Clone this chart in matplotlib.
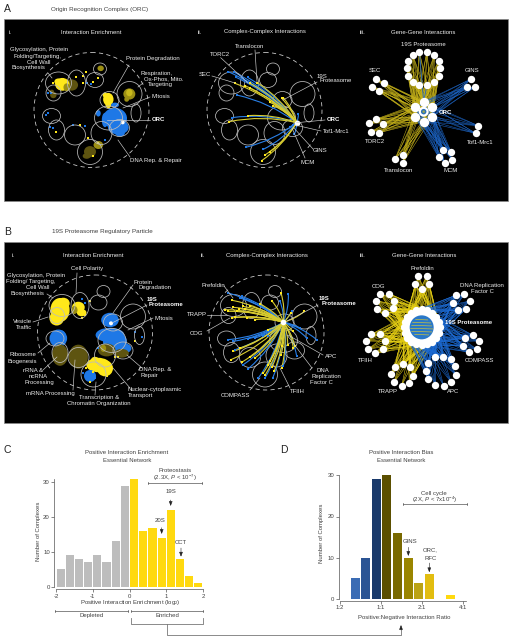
import matplotlib
matplotlib.use('Agg')
import matplotlib.pyplot as plt
from matplotlib.patches import Ellipse, Rectangle, PathPatch
from matplotlib.path import Path
import numpy as np

plt.rcParams['font.family'] = ['Liberation Sans', 'DejaVu Sans']
plt.rcParams['mathtext.fontset'] = 'custom'
plt.rcParams['mathtext.rm'] = 'Liberation Sans'
plt.rcParams['mathtext.it'] = 'Liberation Sans:italic'

# ---------- histogram data ----------
c_bins = [-1.875, -1.625, -1.375, -1.125, -0.875, -0.625, -0.375, -0.125,
          0.125, 0.375, 0.625, 0.875, 1.125, 1.375, 1.625, 1.875]
c_counts = [5, 9, 8, 7, 9, 7, 13, 29, 31, 16, 17, 14, 22, 8, 3, 1]
c_colors = ['#bdbdbd'] * 8 + ['#ffd90f'] * 8
d_bins = [-0.626, -0.372, -0.112, 0.149, 0.401, 0.663, 0.924, 1.183, 1.443, 1.695]
d_counts = [5, 10, 29, 30, 16, 10, 4, 6, 0, 1]
d_colors = ['#3b6cb4', '#2b5494', '#1a3a6b', '#5b4f00', '#796900', '#9a8500',
            '#bba313', '#e2bd10', '#f0c800', '#ffd90f']
d_ticklabels = ['1:2', '1:1', '2:1', '4:1']

# ---------- network map outlines, relative to map centre (x, y, rx, ry) ----------
regions = [(-33, -27, 13, 11), (-38, -17, 7.5, 8), (-15, -27, 9, 13), (8.5, -41, 6.5, 6),
           (3.5, -30, 8.5, 7.5), (38, -16, 12.5, 12.5), (18, -10, 9.5, 8.5), (44.5, 3, 5, 9),
           (17, 8, 14, 12), (28, 18, 10, 8.5), (-40, 6, 9, 7.5), (-35, 20, 8, 10),
           (-16.5, 25, 10.5, 10), (10, 23, 10.5, 11.5), (-1.5, 42, 12.5, 12.5)]
map_centres = {'Ai': (91.5, 110), 'Aii': (264.5, 110), 'Bi': (95, 332.5), 'Bii': (266.5, 332.5)}
MAP_R = 57.5

YEL, BLU, OLV, DOL = '#ffe81a', '#1e78e6', '#9c8f14', '#5e5410'

# ---------- enrichment maps: blobs (x, y, rx, ry, colour) in crop coordinates ----------
ai_origin = (30, 50)
ai_blobs = [(125, 105, 16, 14, DOL), (70, 135, 8, 8, DOL), (65, 125, 6, 5, DOL),
            (97, 103, 18, 16, YEL), (85, 95, 10, 8, YEL), (110, 112, 8, 10, OLV),
            (235, 148, 13, 16, YEL), (235, 165, 7, 8, YEL), (225, 135, 6, 6, YEL),
            (298, 132, 15, 14, OLV), (298, 128, 8, 9, '#c8b81c'), (290, 148, 6, 6, OLV),
            (180, 305, 15, 14, DOL), (170, 318, 10, 7, DOL), (205, 285, 12, 10, OLV),
            (212, 55, 8, 7, OLV), (255, 205, 30, 26, BLU), (265, 232, 26, 18, BLU),
            (225, 210, 8, 18, BLU), (270, 250, 12, 8, BLU), (205, 190, 6, 8, BLU),
            (255, 165, 10, 6, BLU), (278, 217, 6, 6, '#ffffff')]
ai_yellow = [(68, 100), (138, 82), (168, 65), (158, 78), (188, 97), (205, 85), (175, 265),
             (190, 318), (78, 247), (150, 225), (203, 280), (160, 100)]
ai_blue = [(55, 130), (62, 130), (60, 232), (170, 100), (183, 103), (225, 270), (48, 195),
           (68, 235), (200, 185), (55, 188), (130, 225), (165, 228)]

bi_origin = (35, 270)
bi_blobs = [(75, 120, 24, 30, YEL), (85, 100, 16, 14, YEL), (65, 145, 18, 18, YEL),
            (130, 112, 16, 14, YEL), (140, 128, 12, 9, YEL), (118, 120, 8, 10, OLV),
            (225, 150, 22, 18, BLU), (225, 195, 36, 18, BLU), (240, 215, 30, 24, BLU),
            (270, 235, 16, 12, BLU), (70, 205, 22, 22, BLU), (75, 190, 12, 8, BLU),
            (75, 255, 20, 27, DOL), (130, 260, 24, 30, DOL), (215, 240, 22, 16, DOL),
            (260, 250, 18, 11, DOL), (190, 285, 30, 18, YEL), (210, 295, 20, 20, YEL),
            (180, 270, 10, 8, YEL), (165, 318, 15, 15, BLU), (205, 235, 7, 9, OLV),
            (228, 160, 6, 6, '#ffffff')]
bi_yellow = [(165, 92), (150, 135), (140, 145), (300, 212), (152, 295), (215, 318), (175, 305),
             (165, 335), (250, 260), (240, 262)]
bi_blue = [(140, 88), (150, 100), (180, 325), (300, 185), (190, 235), (145, 308), (320, 200)]

# ---------- complex-complex maps: end points of arcs in crop coordinates ----------
aii_origin = (200, 45)
aii_hub = (290, 233)
aii_yellow = [(105, 115), (135, 122), (150, 115), (172, 113), (150, 130), (245, 160), (210, 172),
              (220, 182), (143, 212), (87, 230), (195, 330), (210, 320), (185, 347), (250, 158)]
aii_blue = [(85, 80), (103, 82), (143, 97), (108, 97), (110, 150), (95, 218), (190, 313),
            (137, 307), (295, 208), (283, 268), (270, 245), (125, 100), (278, 240)]

bii_origin = (200, 268)
bii_hub = (250, 163)
bii_yellow = [(97, 97), (75, 125), (100, 118), (118, 122), (135, 122), (150, 115), (95, 150),
              (105, 148), (140, 150), (165, 155), (180, 108), (215, 98), (243, 75), (313, 130),
              (272, 135), (205, 185), (120, 240), (100, 250), (93, 275), (125, 283), (150, 268),
              (165, 270), (190, 315), (195, 322), (203, 290), (215, 298), (222, 310), (245, 300),
              (210, 280), (245, 235), (263, 230), (280, 240), (285, 235), (278, 190), (243, 260),
              (85, 130), (110, 130), (128, 115)]
bii_blue = [(85, 75), (120, 90), (125, 85), (265, 78), (240, 100), (275, 130), (100, 220),
            (145, 212), (165, 210), (190, 205), (105, 245), (130, 290), (145, 302), (195, 330),
            (218, 330), (175, 330), (250, 295), (300, 180), (320, 210), (350, 215), (290, 265),
            (85, 215), (205, 205)]

# ---------- gene-gene networks (crop coordinates) ----------
aiii_hubnodes = [(503, 305), (477, 322), (529, 322), (477, 350), (529, 350), (503, 365)]
aiii_clusters = {
    '19S': ([(490, 155), (513, 155), (535, 165), (548, 183), (552, 205), (548, 228), (535, 245),
             (513, 255), (490, 255), (470, 245), (457, 228), (452, 205), (457, 183), (470, 165)], '#c8b41a'),
    'SEC': ([(361, 237), (383, 250), (348, 260), (370, 272)], '#c8b41a'),
    'TORC2': ([(361, 357), (338, 370), (380, 373), (344, 396), (370, 398)], '#c8b41a'),
    'Translocon': ([(440, 465), (417, 478), (440, 490)], '#c8b41a'),
    'GINS': ([(645, 237), (632, 260), (658, 260)], '#1c64c4'),
    'Tof1': ([(667, 377), (659, 400)], '#1c64c4'),
    'MCM': ([(561, 450), (585, 455), (548, 472), (589, 480), (566, 490)], '#1c64c4'),
}
biii_hub_centre = (497, 367)
biii_hub_angles = [0, 18, 36, 54, 72, 90, 108, 126, 144, 162, 180, 198, 216, 234, 252, 270, 288, 306, 324, 342]
biii_clusters = {
    'Prefoldin': ([(487, 213), (512, 213), (478, 238), (520, 238), (499, 253)], '#e6cf14'),
    'COG': ([(373, 266), (399, 266), (359, 287), (415, 287), (364, 312), (388, 323), (410, 310)], '#e6cf14'),
    'TFIIH': ([(346, 388), (372, 388), (330, 408), (388, 408), (335, 433), (382, 433), (358, 445)], '#e6cf14'),
    'TRAPP': ([(441, 476), (417, 485), (463, 487), (405, 508), (471, 512), (414, 532), (460, 534), (437, 542)], '#e6cf14'),
    'DNA': ([(599, 271), (625, 267), (590, 295), (641, 288), (606, 316), (631, 311)], '#1c6ad2'),
    'COMPASS': ([(651, 391), (626, 398), (669, 408), (620, 422), (663, 433), (638, 441)], '#1c6ad2'),
    'APC': ([(536, 457), (561, 456), (585, 463), (517, 474), (598, 484), (510, 498), (599, 509),
             (517, 523), (586, 532), (538, 540), (563, 543)], '#1c6ad2'),
}

# ---------- texts (x, y, text) ----------
white_labels = [
    (38.7, 50, 'Glycosylation, Protein'), (37, 56.5, 'Folding/Targeting,'), (39, 62, 'Cell Wall'), (28, 68, 'Biosynthesis'),
    (153, 58.5, 'Protein Degradation'), (157, 73, 'Respiration,'), (164, 79, 'Ox-Phos, Mito.'), (160, 84.5, 'Targeting'),
    (161, 96, 'Mitosis'), (155.7, 160.5, 'DNA Rep. & Repair'),
    (249.5, 47, 'Translocon'), (220, 55, 'TORC2'), (205, 75, 'SEC'), (321.7, 76, '19S'), (336, 81, 'Proteasome'),
    (336.7, 131.5, 'Tof1-Mrc1'), (320, 151, 'GINS'), (308, 163, 'MCM'),
    (423.7, 44.5, '19S Proteasome'), (375, 70.5, 'SEC'), (471.7, 70.5, 'GINS'), (480, 142, 'Tof1-Mrc1'),
    (375, 141.5, 'TORC2'), (399, 171, 'Translocon'), (451, 171, 'MCM'),
    (91.5, 32, 'Interaction Enrichment'), (264.5, 32, 'Complex-Complex Interactions'), (422.7, 32, 'Gene-Gene Interactions'),
    (10, 32, 'i.'), (200, 32, 'ii.'), (362.7, 32, 'iii.'),
    (93.7, 255.5, 'Interaction Enrichment'), (266.5, 255.5, 'Complex-Complex Interactions'), (424.3, 255.5, 'Gene-Gene Interactions'),
    (13, 255.5, 'i.'), (203, 255.5, 'ii.'), (362, 255.5, 'iii.'),
    (86.7, 268.3, 'Cell Polarity'), (36, 275.7, 'Glycosylation, Protein'), (30.7, 282, 'Folding/ Targeting,'),
    (37.3, 287.7, 'Cell Wall'), (27.3, 293.7, 'Biosynthesis'), (22.7, 321.7, 'Vesicle'), (24, 327.5, 'Traffic'),
    (22.7, 355, 'Ribosome'), (22.7, 361, 'Biogenesis'), (33.3, 370.7, 'rRNA &'), (38, 376.5, 'ncRNA'), (39, 382.5, 'Processing'),
    (50.7, 394, 'mRNA Processing'), (99.3, 398, 'Transcription &'), (99.3, 404, 'Chromatin Organization'),
    (155, 389.3, 'Nuclear-cytoplasmic'), (141, 395, 'Transport'), (155, 369.7, 'DNA Rep. &'), (149, 375.7, 'Repair'),
    (164, 318, 'Mitosis'), (143, 282, 'Protein'), (155, 288, 'Degradation'),
    (213.3, 285.7, 'Prefoldin'), (196.7, 314.3, 'TRAPP'), (197, 333.7, 'COG'), (235.7, 395.7, 'COMPASS'), (297, 391.7, 'TFIIH'),
    (322.7, 370.5, 'DNA'), (326, 376.5, 'Replication'), (321.3, 382.5, 'Factor C'), (331, 356, 'APC'),
    (422.3, 268.3, 'Prefoldin'), (379, 286, 'COG'), (482, 285.7, 'DNA Replication'), (482, 291.7, 'Factor C'),
    (479, 360, 'COMPASS'), (365.3, 360, 'TFIIH'), (388, 391.5, 'TRAPP'), (452.7, 391.5, 'APC'),
]
bold_labels = [(158, 119.5, 'ORC'), (333.7, 119.5, 'ORC'), (445, 112.5, 'ORC'),
               (152, 299.5, '19S'), (166, 305, 'Proteasome'),
               (324, 298, '19S'), (338.7, 303.7, 'Proteasome'), (468.3, 322, '19S Proteasome')]
leaders = [
    ((48, 73), (52, 78)), ((129, 65), (113, 93)), ((143, 83), (138, 87)), ((150, 97), (123, 108)),
    ((150, 119.5), (107, 119.5)), ((130, 157), (118, 140)),
    ((220.7, 57.7), (248, 83)), ((255, 50), (257, 82)), ((212, 76), (235, 83)), ((317, 82), (283, 100)),
    ((325, 120), (296.7, 122.7)), ((321, 131), (295, 125)), ((313, 149), (293, 127)), ((305, 158), (292, 128)),
    ((77, 273), (76, 293)), ((47, 294), (53, 298)), ((33, 322), (48, 317)), ((38, 353), (50, 343)),
    ((43, 370), (57, 357)), ((73, 390), (75, 360)), ((95, 395), (96, 382)), ((130, 388), (113, 368)),
    ((142, 368), (127, 355)), ((153, 318), (128, 330)), ((147, 305), (112, 323)), ((133, 285), (113, 313)),
    ((224, 286), (233, 298)), ((207, 315), (227, 315)), ((207, 331), (230, 318)), ((250, 390), (260, 378)),
    ((290, 388), (280, 368)), ((312, 368), (287, 335)), ((323, 355), (288, 335)), ((318, 305), (287, 321)),
]

# ---------- figure ----------
fig = plt.figure(figsize=(5.12, 6.4), dpi=100, facecolor='white')
ov = fig.add_axes([0, 0, 1, 1], zorder=1)
ov.set_xlim(0, 512)
ov.set_ylim(640, 0)
ov.axis('off')

for top, bot in [(18.7, 201), (241.7, 423.3)]:
    ov.add_patch(Rectangle((4, top), 503.5, bot - top, fc='black', ec='#888888', lw=0.5, zorder=0))


def conv(p, origin):
    return origin[0] + p[0] / 3, origin[1] + p[1] / 3


def draw_map(key):
    cx, cy = map_centres[key]
    ov.add_patch(Ellipse((cx, cy), 2 * MAP_R, 2 * MAP_R, fc='none', ec='#c8c8c8', lw=0.6,
                         ls=(0, (5, 4)), zorder=6))
    for x, y, rx, ry in regions:
        ov.add_patch(Ellipse((cx + x, cy + y), 2 * rx, 2 * ry, fc='none', ec='#bcbcbc', lw=0.55, zorder=5))


def draw_enrichment(key, origin, blobs, yel, blu):
    for x, y, rx, ry, col in blobs:
        xc, yc = conv((x, y), origin)
        scale = 1.0 if col == '#ffffff' else 1.2
        ov.add_patch(Ellipse((xc, yc), 2 * scale * rx / 3, 2 * scale * ry / 3, fc=col, ec='none', zorder=3))
    for pts, col in [(yel, YEL), (blu, BLU)]:
        xy = np.array([conv(p, origin) for p in pts])
        ov.scatter(xy[:, 0], xy[:, 1], s=3, c=col, marker='s', lw=0, zorder=4)
    draw_map(key)


def arc(p0, p1, col, lw=0.8):
    p0, p1 = np.array(p0), np.array(p1)
    d = p1 - p0
    normal = np.array([d[1], -d[0]])
    if d[1] < -0.2 * np.hypot(*d):
        normal = -normal
    ctrl = (p0 + p1) / 2 + normal * 0.11
    path = Path([p0, ctrl, p1], [Path.MOVETO, Path.CURVE3, Path.CURVE3])
    ov.add_patch(PathPatch(path, fc='none', ec=col, lw=lw, zorder=7))


def draw_complex(key, origin, hub, yel, blu, hubsize):
    draw_map(key)
    h = conv(hub, origin)
    for pts, col in [(blu, '#2a80e8'), (yel, '#d8cc30')]:
        for q in [conv(p, origin) for p in pts]:
            arc(q, h, col)
    for pts, col in [(blu, BLU), (yel, YEL)]:
        xy = np.array([conv(p, origin) for p in pts])
        ov.scatter(xy[:, 0], xy[:, 1], s=4.5, c=col, marker='s', lw=0, zorder=8)
    ov.scatter([h[0]], [h[1]], s=hubsize, c='white', lw=0, zorder=9)


draw_enrichment('Ai', ai_origin, ai_blobs, ai_yellow, ai_blue)
draw_enrichment('Bi', bi_origin, bi_blobs, bi_yellow, bi_blue)
draw_complex('Aii', aii_origin, aii_hub, aii_yellow, aii_blue, 16)
draw_complex('Bii', bii_origin, bii_hub, bii_yellow, bii_blue, 16)

# gene-gene A
o_a = (256, 0)
hub_a = [conv(p, o_a) for p in aiii_hubnodes]
for name, (nodes, col) in aiii_clusters.items():
    for n in nodes:
        q = conv(n, o_a)
        for h in hub_a:
            ov.plot([q[0], h[0]], [q[1], h[1]], color=col, lw=0.35, zorder=2)
    xy = np.array([conv(n, o_a) for n in nodes])
    ov.scatter(xy[:, 0], xy[:, 1], s=28, c='white', lw=0, zorder=4)
for n in [(490, 155), (513, 255)]:
    q = conv(n, o_a)
    ov.plot([q[0], hub_a[0][0]], [q[1], hub_a[0][1]], color='#1c64c4', lw=0.6, zorder=3)
xy = np.array(hub_a)
ov.scatter(xy[:, 0], xy[:, 1], s=46, c='white', lw=0, zorder=4)
hc = conv((503, 335), o_a)
ov.add_patch(Ellipse(hc, 10, 10, fc='white', ec='none', zorder=4))
ov.add_patch(Ellipse(hc, 5.5, 5.5, fc='#2a70b8', ec='none', zorder=5))
ov.add_patch(Ellipse(hc, 2.5, 2.5, fc='#9aa850', ec='none', zorder=6))

# gene-gene B
o_b = (256, 205)
cx, cy = conv(biii_hub_centre, o_b)
ring = [(cx + 18 * np.cos(np.deg2rad(a)), cy + 18 * np.sin(np.deg2rad(a))) for a in biii_hub_angles]
for name, (nodes, col) in biii_clusters.items():
    for n in nodes:
        q = conv(n, o_b)
        for h in ring:
            if np.hypot(q[0] - h[0], q[1] - h[1]) < 48:
                ov.plot([q[0], h[0]], [q[1], h[1]], color=col, lw=0.35, zorder=2)
    xy = np.array([conv(n, o_b) for n in nodes])
    ov.scatter(xy[:, 0], xy[:, 1], s=28, c='white', lw=0, zorder=4)
xy = np.array(ring)
ov.scatter(xy[:, 0], xy[:, 1], s=28, c='white', lw=0, zorder=4)
ov.add_patch(Ellipse((cx, cy), 36, 36, fc='white', ec='none', zorder=4))
ov.add_patch(Ellipse((cx, cy), 24, 24, fc='#2a78c8', ec='none', zorder=5))
for dy, half in [(-8, 6), (-5, 9), (-2, 10), (1, 11), (4, 10), (7, 7)]:
    ov.plot([cx - half, cx + half], [cy + dy, cy + dy + 0.6], color='#c8c040', lw=0.5, zorder=6)

# leaders and labels
for p, q in leaders:
    ov.plot([p[0], q[0]], [p[1], q[1]], color='#d0d0d0', lw=0.45, zorder=10)
FS = 4.3
for x, y, t in white_labels:
    ov.text(x, y, t, color='#eeeeee', fontsize=FS, ha='center', va='center', zorder=12)
for x, y, t in bold_labels:
    ov.text(x, y, t, color='white', fontsize=FS, fontweight='bold', ha='center', va='center', zorder=12)

# headings
GT = '#404040'
ov.text(7.5, 8.5, 'A', fontsize=7.5, color='#222222', ha='center', va='center')
ov.text(51, 9.3, 'Origin Recognition Complex (ORC)', fontsize=4.5, color=GT, ha='left', va='center')
ov.text(7.5, 231.7, 'B', fontsize=7.5, color='#222222', ha='center', va='center')
ov.text(52, 231.5, '19S Proteasome Regulatory Particle', fontsize=4.5, color=GT, ha='left', va='center')
ov.text(7.5, 450, 'C', fontsize=7.5, color='#222222', ha='center', va='center')
ov.text(284, 450, 'D', fontsize=7.5, color='#222222', ha='center', va='center')


def hist_axes(l, r, y0px, ytop, xlim, ymax):
    ax = fig.add_axes([l / 512, (640 - y0px) / 640, (r - l) / 512, (y0px - ytop) / 640], zorder=2)
    ax.patch.set_alpha(0)
    ax.set_xlim(*xlim)
    ax.set_ylim(0, ymax)
    for s in ['top', 'right']:
        ax.spines[s].set_visible(False)
    for s in ['left', 'bottom']:
        ax.spines[s].set_color('#555555')
        ax.spines[s].set_linewidth(0.5)
    ax.tick_params(length=2, width=0.5, color='#555555', labelsize=FS, labelcolor=GT, pad=1.2)
    return ax


# panel C
axc = hist_axes(56, 203, 586.7, 478, (-2, 2), (586.7 - 478) / 3.48)
axc.bar(c_bins, c_counts, width=0.22, color=c_colors, lw=0)
axc.set_xticks([-2, -1, 0, 1, 2], ['-2', '-1', '0', '1', '2'])
axc.set_yticks([0, 10, 20, 30])
axc.spines['left'].set_position(('outward', 1.2))
axc.spines['bottom'].set_position(('outward', 1.7))
axc.spines['left'].set_bounds(0, (586.7 - 479) / 3.48)

# panel D
axd = hist_axes(340, 466, 599, 473, (-1, (466 - 380.9) / 40.9), (599 - 473) / 4.125)
axd.bar(d_bins, d_counts, width=0.22, color=d_colors, lw=0)
axd.set_xticks([-1, 0, 1, 2], d_ticklabels)
axd.set_yticks([0, 10, 20, 30])
axd.spines['left'].set_position(('outward', 1.0))
axd.spines['bottom'].set_position(('outward', 1.4))
axd.spines['left'].set_bounds(0, 30)

hist_texts = [
    (126.7, 452.3, 'Positive Interaction Enrichment'), (126.7, 460, 'Essential Network'),
    (174.7, 471, 'Proteostasis'), (174.7, 478.3, '(2.3X, $\\mathit{P}$ < 10$^{-7}$)'),
    (170.7, 491.7, '19S'), (160.3, 520, '20S'), (181, 542, 'CCT'),
    (130, 602.5, 'Positive Interaction Enrichment (log$_{2}$)'),
    (91.7, 615.5, 'Depleted'), (167.3, 615.5, 'Enriched'),
    (400.7, 452.3, 'Positive Interaction Bias'), (400.7, 460, 'Essential Network'),
    (434.3, 493.5, 'Cell cycle'), (434.3, 500.3, '(2X, $\\mathit{P}$ < 7x10$^{-4}$)'),
    (410.3, 541.7, 'GINS'), (430.3, 550, 'ORC,'), (430.3, 558, 'RFC'),
    (404.3, 617.3, 'Positive:Negative Interaction Ratio'),
]
for x, y, t in hist_texts:
    ov.text(x, y, t, fontsize=FS, color=GT, ha='center', va='center')
ov.text(38.5, 531.7, 'Number of Complexes', fontsize=FS, color=GT, rotation=90, ha='center', va='center')
ov.text(322, 533, 'Number of Complexes', fontsize=FS, color=GT, rotation=90, ha='center', va='center')

# arrows
ARROW = dict(arrowstyle='-|>,head_width=0.35,head_length=0.9', mutation_scale=3, lw=0.4,
             color='#222222', shrinkA=0, shrinkB=0)
for x, y0, y1 in [(170.7, 500, 506), (161.7, 527.7, 534), (181, 548, 556.7), (408.3, 547.3, 556), (429.3, 563, 572.3)]:
    ov.annotate('', xy=(x, y1), xytext=(x, y0), arrowprops=ARROW)

# brackets with end ticks
for x0, x1, y in [(148, 202, 482.7), (403.3, 466.7, 504), (55.3, 128.3, 610.7), (131.3, 203.3, 610.7)]:
    ov.plot([x0, x1], [y, y], color='#555555', lw=0.5)
    for x in (x0, x1):
        ov.plot([x, x], [y - 1, y + 1], color='#555555', lw=0.5)
LINE = '#777777'
ov.plot([131.3, 131.3, 203.3, 203.3], [618, 624.3, 624.3, 618], color=LINE, lw=0.6)
ov.plot([167, 167, 401, 401], [624.3, 635, 635, 628], color=LINE, lw=0.6)
ov.annotate('', xy=(401, 625), xytext=(401, 630), arrowprops=ARROW)

fig.savefig('out.png', dpi=100, facecolor='white')
